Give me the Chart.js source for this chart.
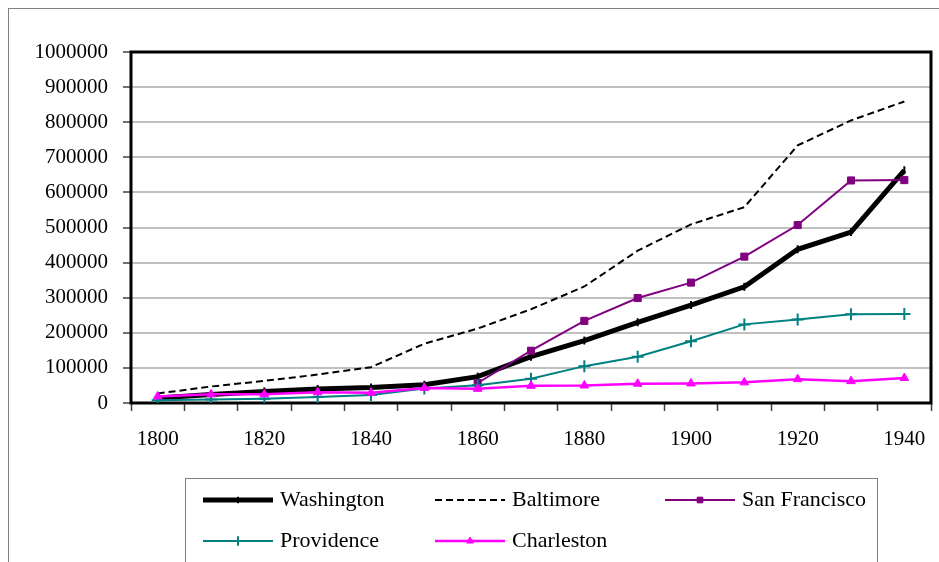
<!DOCTYPE html>
<html>
<head>
<meta charset="utf-8">
<script src="https://cdn.jsdelivr.net/npm/chart.js@4/dist/chart.umd.min.js"></script>
<style>
    body { margin: 0; background: #fff; font-family: serif; }
    #wrap { position: relative; width: 939px; height: 562px; overflow: hidden; }
    #frame { position: absolute; left: 8px; top: 8px; width: 940px; height: 560px; border: 1px solid #808080; pointer-events: none; }
    #fontWarm { position: absolute; left: -9999px; top: 0; font-family: serif; font-size: 21px; }
    canvas { position: absolute; left: 0; top: 0; }
</style>
</head>
<body>
<span id="fontWarm">Washington Baltimore San Francisco 1000000</span>
<div id="wrap">
    <canvas id="popChart" width="939" height="562"></canvas>
    <div id="frame"></div>
</div>
<script>
// census years, every 10 years
const years = ['1800', '1810', '1820', '1830', '1840', '1850', '1860', '1870',
               '1880', '1890', '1900', '1910', '1920', '1930', '1940'];

// population
const washington   = [14000, 24000, 33000, 40000, 44000, 52000, 75000, 132000, 178000, 230000, 279000, 331000, 438000, 487000, 663000];
const baltimore    = [27000, 47000, 63000, 81000, 102000, 169000, 212000, 267000, 332000, 434000, 509000, 558000, 734000, 805000, 859000];
const sanFrancisco = [null, null, null, null, null, null, 57000, 149000, 234000, 299000, 343000, 417000, 507000, 634000, 635000];
const providence   = [7600, 10000, 11800, 16800, 23000, 41500, 50700, 69000, 105000, 132000, 176000, 224000, 238000, 253000, 253500];
const charleston   = [18800, 24700, 24800, 30300, 29300, 43000, 40500, 49000, 50000, 55000, 55800, 58800, 68000, 62300, 71300];

const yTicks = { min: 0, max: 1000000, step: 100000 };

const FONT = { family: 'serif', size: 21 };
const LEGEND_FONT = '22px serif';

// plot frame drawn as one thick black box
const framePlugin = {
    id: 'frame',
    beforeDatasetsDraw(chart) {
        const { ctx, chartArea: a } = chart;
        ctx.save();
        ctx.strokeStyle = '#000';
        ctx.lineWidth = 3;
        ctx.strokeRect(a.left, a.top, a.right - a.left, a.bottom - a.top);
        ctx.restore();
    }
};

// boxed legend in three columns under the plot
const boxLegendPlugin = {
    id: 'boxLegend',
    afterDraw(chart) {
        const ctx = chart.ctx;
        const cols = [203, 435, 665];
        const rows = [500, 541];
        ctx.save();
        ctx.strokeStyle = '#808080';
        ctx.lineWidth = 1;
        ctx.strokeRect(185.5, 478.5, 692, 100);

        chart.data.datasets.forEach((ds, i) => {
            const x = cols[i % 3];
            const y = rows[Math.floor(i / 3)];
            ctx.save();
            ctx.strokeStyle = ds.borderColor;
            ctx.fillStyle = ds.borderColor;
            ctx.lineWidth = ds.borderWidth;
            ctx.setLineDash(ds.borderDash || []);
            ctx.beginPath();
            ctx.moveTo(x, y);
            ctx.lineTo(x + 70, y);
            ctx.stroke();
            ctx.setLineDash([]);
            if (ds.pointRadius > 0) {
                ctx.fillStyle = ds.pointBackgroundColor;
                ctx.strokeStyle = ds.pointBorderColor;
                ctx.lineWidth = ds.pointBorderWidth;
                Chart.helpers.drawPoint(ctx, {
                    pointStyle: ds.pointStyle,
                    rotation: ds.pointRotation || 0,
                    radius: ds.pointRadius * 0.8,
                    borderWidth: ds.pointBorderWidth
                }, x + 35, y);
            }
            ctx.restore();
            ctx.fillStyle = '#000';
            ctx.font = LEGEND_FONT;
            ctx.textBaseline = 'middle';
            ctx.textAlign = 'left';
            ctx.fillText(ds.label, x + 77, y);
        });
        ctx.restore();
    }
};

function series(label, data, color, extra) {
    return Object.assign({
        label: label,
        data: data,
        borderColor: color,
        backgroundColor: color,
        pointBackgroundColor: color,
        pointBorderColor: color,
        borderWidth: 2,
        pointBorderWidth: 1,
        tension: 0,
        fill: false
    }, extra);
}

function drawChart() {
    Chart.defaults.font.family = FONT.family;
    return new Chart(document.getElementById('popChart').getContext('2d'), {
        type: 'line',
        data: {
            labels: years,
            datasets: [
                series('Washington', washington, '#000000', {
                    borderWidth: 5, pointStyle: 'line', pointRotation: 90, pointRadius: 4, pointBorderWidth: 2, order: 5
                }),
                series('Baltimore', baltimore, '#000000', {
                    borderWidth: 2, borderDash: [7, 4], pointRadius: 0, order: 4
                }),
                series('San Francisco', sanFrancisco, '#800080', {
                    pointStyle: 'rect', pointRadius: 5, order: 3
                }),
                series('Providence', providence, '#008080', {
                    pointStyle: 'cross', pointRadius: 6, pointBorderWidth: 2, order: 2
                }),
                series('Charleston', charleston, '#FF00FF', {
                    borderWidth: 2.5, pointStyle: 'triangle', pointRadius: 5, order: 1
                })
            ]
        },
        options: {
            responsive: false,
            animation: false,
            layout: { padding: { top: 52, right: 6, left: 0, bottom: 0 } },
            plugins: {
                legend: { display: false },
                tooltip: { enabled: false }
            },
            scales: {
                x: {
                    type: 'category',
                    offset: true,
                    border: { display: false },
                    grid: {
                        offset: true,
                        drawOnChartArea: false,
                        tickLength: 8,
                        tickColor: '#404040',
                        tickWidth: 1.5
                    },
                    ticks: {
                        autoSkip: false,
                        maxRotation: 0,
                        padding: 16,
                        color: '#000',
                        font: FONT,
                        callback: (val, i) => (i % 2 === 0 ? years[i] : '')
                    },
                    afterFit: (scale) => {
                        scale.height = 159;
                        scale.paddingLeft = 0;
                        scale.paddingRight = 0;
                    }
                },
                y: {
                    min: yTicks.min,
                    max: yTicks.max,
                    border: { display: false },
                    grid: {
                        color: '#c0c0c0',
                        lineWidth: 2,
                        tickLength: 8,
                        tickColor: '#404040',
                        tickWidth: 1.5
                    },
                    ticks: {
                        stepSize: yTicks.step,
                        padding: 15,
                        color: '#000',
                        font: FONT,
                        callback: (value) => String(value)
                    },
                    afterFit: (scale) => {
                        scale.width = 131;
                        scale.paddingTop = 0;
                        scale.paddingBottom = 0;
                    }
                }
            }
        },
        plugins: [framePlugin, boxLegendPlugin]
    });
}

// wait until the serif face is in use by the page before drawing on canvas
document.fonts.ready.then(() => {
    setTimeout(() => {
        const chart = drawChart();
        setTimeout(() => chart.update(), 200);
    }, 30);
});
</script>
</body>
</html>
